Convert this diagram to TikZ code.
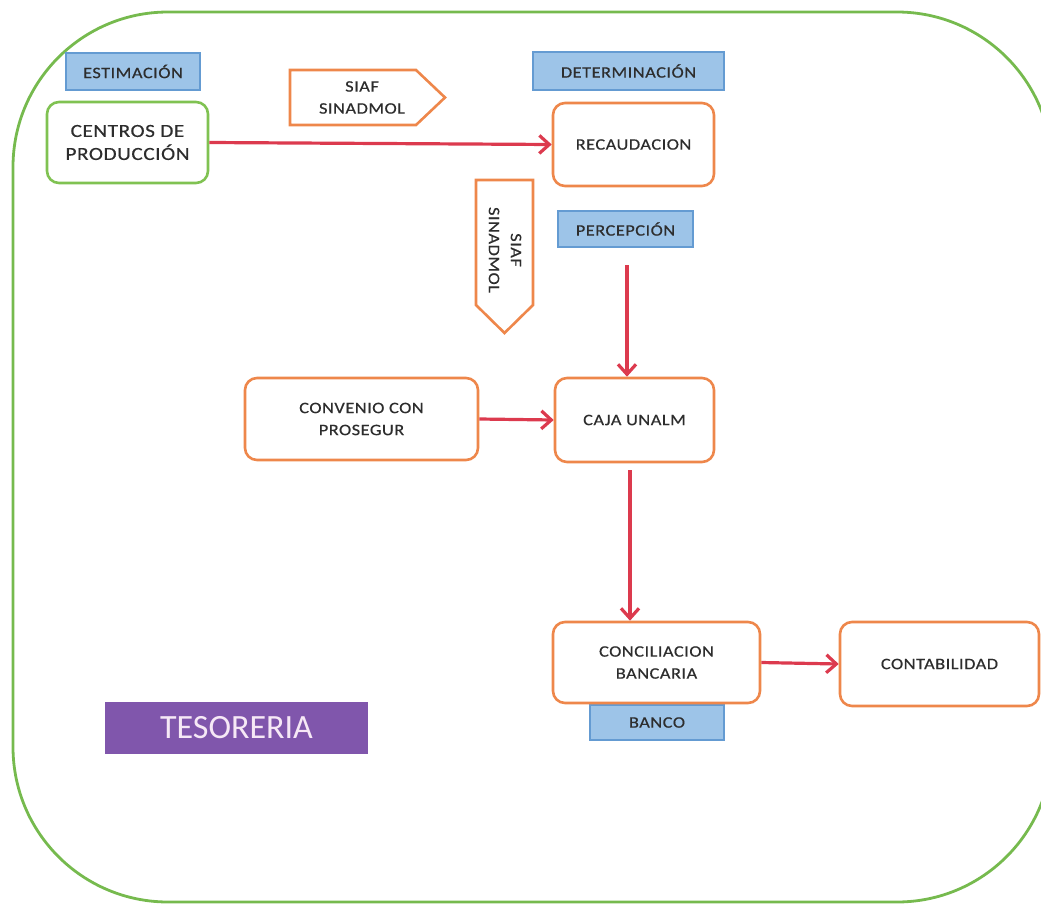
\documentclass[tikz,border=0pt]{standalone}
\usepackage{fontspec}
\setmainfont{Carlito}
\newfontfamily\boxfont[FakeStretch=1.15,LetterSpace=3,FakeBold=0.4]{Carlito}
\usetikzlibrary{arrows.meta}
\definecolor{frameg}{RGB}{118,186,78}
\definecolor{boxg}{RGB}{128,194,82}
\definecolor{boxo}{RGB}{238,135,75}
\definecolor{bluef}{RGB}{157,196,232}
\definecolor{blued}{RGB}{100,155,210}
\definecolor{arr}{RGB}{220,58,78}
\definecolor{txt}{RGB}{45,45,45}
\definecolor{purp}{RGB}{128,86,172}
\definecolor{purt}{RGB}{246,232,246}
\tikzset{
  lbl/.style={font=\boxfont\fontsize{16}{22}\selectfont, text=txt, align=center},
  biglbl/.style={font=\boxfont\fontsize{18.5}{23}\selectfont},
  bluebox/.style={lbl, draw=blued, fill=bluef, line width=1.5pt, inner sep=0pt},
  procbox/.style={lbl, draw=boxo, fill=white, line width=2.6pt, rounded corners=12pt, inner sep=0pt},
  greenbox/.style={procbox, draw=boxg, biglbl},
  flow/.style={draw=arr, line width=3.2pt, -{Straight Barb[length=10pt,width=18pt]}},
  sigshape/.style={draw=boxo, fill=white, line width=2.6pt, line join=miter}
}
\begin{document}
\begin{tikzpicture}[x=1pt,y=-1pt]
\useasboundingbox (0,0) rectangle (1041,905);
\clip (0,0) rectangle (1041,905);
% outer frame
\draw[frameg, line width=2.8pt, rounded corners=155pt] (13,12) rectangle (1052,902);

% labels (blue)
\node[bluebox, minimum width=134pt, minimum height=37pt] (est) at (133,71.5) {ESTIMACIÓN};
\node[bluebox, minimum width=191pt, minimum height=38pt] (det) at (628.5,71) {DETERMINACIÓN};
\node[bluebox, minimum width=135pt, minimum height=36pt] (per) at (625.5,229) {PERCEPCIÓN};
\node[bluebox, minimum width=134pt, minimum height=35pt] (banco) at (657,722.5) {BANCO};

% process boxes
\node[greenbox, minimum width=161pt, minimum height=81pt] (cen) at (127.5,142.5) {CENTROS DE\\PRODUCCIÓN};
\node[procbox, minimum width=161pt, minimum height=83pt] (rec) at (633.5,144.5) {RECAUDACION};
\node[procbox, minimum width=233pt, minimum height=82pt] (cvn) at (361.5,419) {CONVENIO CON\\PROSEGUR};
\node[procbox, minimum width=159pt, minimum height=84pt] (caja) at (634.5,420) {CAJA UNALM};
\node[procbox, minimum width=207pt, minimum height=81pt] (conc) at (656.5,662.5) {CONCILIACION\\BANCARIA};
\node[procbox, minimum width=199pt, minimum height=84pt] (cont) at (939.5,664) {CONTABILIDAD};

% SIAF pentagons
\draw[sigshape] (290,70) -- (416,70) -- (445,97.5) -- (416,125) -- (290,125) -- cycle;
\node[lbl] (siaf1) at (362,97.5) {SIAF\\SINADMOL};
\draw[sigshape] (476,180) -- (533,180) -- (533,305) -- (504.5,333) -- (476,305) -- cycle;
\node[lbl, rotate=-90] (siaf2) at (505,250) {SIAF\\SINADMOL};

% TESORERIA
\node[fill=purp, text=purt, minimum width=263pt, minimum height=52pt, inner sep=0pt,
      font=\fontsize{34}{34}\selectfont] (tes) at (236.5,728) {TESORERIA};

% connectors
\draw[flow] (cen.east) -- (rec.west);
\coordinate (a1) at (627,265);
\draw[flow] (a1) -- (a1 |- caja.north);
\draw[flow] (cvn.east) -- (caja.west);
\coordinate (a2) at (630,470);
\draw[flow] (a2) -- (a2 |- conc.north);
\draw[flow] (conc.east) -- (cont.west);
\end{tikzpicture}
\end{document}
